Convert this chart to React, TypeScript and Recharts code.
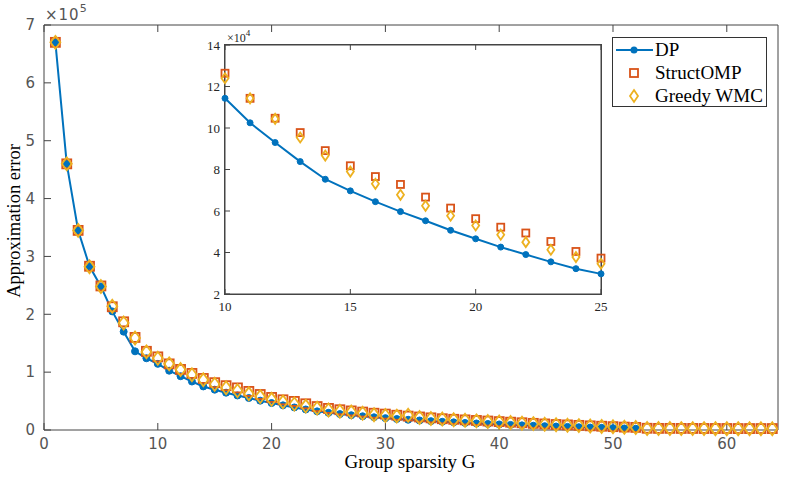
import React from 'react';
import { ComposedChart, Line, XAxis, YAxis, Label } from 'recharts';

// group sparsity G, error values in units of 1e5
const groups = [
  1, 2, 3, 4, 5, 6, 7, 8, 9, 10, 11, 12, 13, 14, 15, 16, 17, 18, 19, 20, 21, 22, 23, 24, 25, 26, 27, 28, 29, 30, 31, 32,
  33, 34, 35, 36, 37, 38, 39, 40, 41, 42, 43, 44, 45, 46, 47, 48, 49, 50, 51, 52, 53, 54, 55, 56, 57, 58, 59, 60, 61, 62,
  63, 64,
];
const dpError = [
  6.7, 4.6, 3.45, 2.83, 2.48, 2.05, 1.7, 1.36, 1.24, 1.143, 1.025, 0.93, 0.838, 0.753, 0.697, 0.645, 0.597, 0.553, 0.507,
  0.466, 0.426, 0.39, 0.355, 0.322, 0.297, 0.275, 0.255, 0.237, 0.22, 0.205, 0.19, 0.177, 0.165, 0.153, 0.142, 0.132,
  0.122, 0.113, 0.104, 0.096, 0.088, 0.08, 0.073, 0.066, 0.06, 0.054, 0.048, 0.042, 0.037, 0.032, 0.027, 0.022, null,
  null, null, null, null, null, null, null, null, null, null, null,
];
const structOmpError = [
  6.7, 4.6, 3.45, 2.83, 2.49, 2.13, 1.87, 1.6, 1.36, 1.264, 1.143, 1.047, 0.978, 0.891, 0.818, 0.766, 0.728, 0.667,
  0.614, 0.563, 0.522, 0.494, 0.453, 0.405, 0.373, 0.35, 0.33, 0.31, 0.29, 0.275, 0.255, 0.24, 0.225, 0.21, 0.195, 0.185,
  0.175, 0.165, 0.155, 0.145, 0.135, 0.125, 0.115, 0.105, 0.095, 0.088, 0.08, 0.072, 0.065, 0.058, 0.05, 0.045, 0.03,
  0.028, 0.028, 0.027, 0.027, 0.026, 0.026, 0.026, 0.025, 0.025, 0.025, 0.025,
];
const greedyWmcError = [
  6.7, 4.6, 3.45, 2.82, 2.48, 2.14, 1.85, 1.59, 1.35, 1.24, 1.143, 1.044, 0.954, 0.867, 0.79, 0.731, 0.678, 0.625, 0.577,
  0.53, 0.486, 0.45, 0.413, 0.378, 0.346, 0.325, 0.31, 0.29, 0.265, 0.25, 0.24, 0.255, 0.215, 0.2, 0.19, 0.178, 0.168,
  0.158, 0.148, 0.138, 0.128, 0.118, 0.11, 0.1, 0.09, 0.083, 0.076, 0.068, 0.062, 0.055, 0.048, 0.042, 0.026, 0.025,
  0.025, 0.024, 0.024, 0.024, 0.023, 0.023, 0.023, 0.022, 0.022, 0.022,
];

const mainXTicks = [0, 10, 20, 30, 40, 50, 60];
const mainYTicks = [0, 1, 2, 3, 4, 5, 6, 7];
const insetXTicks = [10, 15, 20, 25];
const insetYTicks = [0.2, 0.4, 0.6, 0.8, 1.0, 1.2, 1.4];

const BLUE = '#0072BD';
const RED = '#D95319';
const GOLD = '#EDB120';
const AXIS = '#444';
const SERIF = '"Liberation Serif", "Times New Roman", serif';
const SANS = '"DejaVu Sans", sans-serif';

const data = groups.map((g, i) => ({
  g,
  dp: dpError[i],
  struct: structOmpError[i],
  greedy: greedyWmcError[i],
}));
const insetData = data.filter((d) => d.g >= 10 && d.g <= 25);

const makeCircle = (r: number) => (p: any) => {
  if (p.cx == null || p.cy == null || p.value == null) return <g key={p.index} />;
  return <circle key={p.index} cx={p.cx} cy={p.cy} r={r} fill={BLUE} stroke={BLUE} />;
};
const makeSquare = (s: number) => (p: any) => {
  if (p.cx == null || p.cy == null || p.value == null) return <g key={p.index} />;
  return (
    <rect key={p.index} x={p.cx - s / 2} y={p.cy - s / 2} width={s} height={s} fill="none" stroke={RED} strokeWidth={1.8} />
  );
};
const makeDiamond = (w: number, h: number) => (p: any) => {
  if (p.cx == null || p.cy == null || p.value == null) return <g key={p.index} />;
  const { cx, cy } = p;
  const pts = `${cx},${cy - h / 2} ${cx + w / 2},${cy} ${cx},${cy + h / 2} ${cx - w / 2},${cy}`;
  return <polygon key={p.index} points={pts} fill="none" stroke={GOLD} strokeWidth={1.8} />;
};

const mainTick = { fill: '#555', fontSize: 15, fontFamily: SANS };
const insetTick = { fill: '#262626', fontSize: 13, fontFamily: SERIF };

function Legend() {
  const row = (top: number): React.CSSProperties => ({
    position: 'absolute',
    left: 0,
    top: top - 12,
    height: 24,
    display: 'flex',
    alignItems: 'center',
  });
  return (
    <div
      style={{
        position: 'absolute',
        left: 612,
        top: 37,
        width: 155,
        height: 70,
        border: '1px solid #333',
        background: '#fff',
        fontFamily: SERIF,
        fontSize: 19,
        color: '#000',
        boxSizing: 'border-box',
      }}
    >
      <div style={row(12)}>
        <svg width={42} height={24}>
          <line x1={3} x2={40} y1={12} y2={12} stroke={BLUE} strokeWidth={2} />
          <circle cx={21} cy={12} r={3.5} fill={BLUE} />
        </svg>
        <span>DP</span>
      </div>
      <div style={row(35)}>
        <svg width={42} height={24}>
          <rect x={17} y={8} width={8} height={8} fill="none" stroke={RED} strokeWidth={1.8} />
        </svg>
        <span>StructOMP</span>
      </div>
      <div style={row(58)}>
        <svg width={42} height={24}>
          <polygon points="21,6 25,12 21,18 17,12" fill="none" stroke={GOLD} strokeWidth={1.8} />
        </svg>
        <span>Greedy WMC</span>
      </div>
    </div>
  );
}

export default function App() {
  return (
    <div style={{ position: 'absolute', left: 0, top: 0, width: 789, height: 478, background: '#fff' }}>
      <ComposedChart width={789} height={478} data={data} margin={{ top: 24, right: 10, bottom: 0, left: 0 }}>
        <XAxis
          xAxisId="main"
          dataKey="g"
          type="number"
          domain={[0, 64.5]}
          ticks={mainXTicks}
          allowDataOverflow
          height={48}
          tickSize={-7}
          tickMargin={15}
          tick={mainTick}
          stroke={AXIS}
        >
          <Label
            content={() => (
              <text x={410} y={468} textAnchor="middle" fontFamily={SERIF} fontSize={19} fill="#000">
                Group sparsity G
              </text>
            )}
          />
        </XAxis>
        <XAxis
          xAxisId="top"
          dataKey="g"
          type="number"
          orientation="top"
          domain={[0, 64.5]}
          ticks={mainXTicks}
          allowDataOverflow
          height={1}
          tickSize={-7}
          tickFormatter={() => ''}
          stroke={AXIS}
        />
        <YAxis
          yAxisId="main"
          type="number"
          domain={[0, 7]}
          ticks={mainYTicks}
          width={44}
          tickSize={-7}
          tickMargin={16}
          tick={mainTick}
          stroke={AXIS}
        >
          <Label
            content={() => (
              <text
                x={14}
                y={221}
                transform="rotate(-90 14 221)"
                textAnchor="middle"
                dominantBaseline="central"
                fontFamily={SERIF}
                fontSize={18.5}
                fill="#000"
              >
                Approximation error
              </text>
            )}
          />
        </YAxis>
        <YAxis
          yAxisId="right"
          type="number"
          orientation="right"
          domain={[0, 7]}
          ticks={mainYTicks}
          width={1}
          tickSize={-7}
          tickFormatter={() => ''}
          stroke={AXIS}
        />
        <Line
          xAxisId="main"
          yAxisId="main"
          dataKey="dp"
          stroke={BLUE}
          strokeWidth={2}
          dot={makeCircle(3.5)}
          activeDot={false}
          isAnimationActive={false}
        />
        <Line
          xAxisId="main"
          yAxisId="main"
          dataKey="struct"
          stroke="none"
          dot={makeSquare(9)}
          activeDot={false}
          isAnimationActive={false}
        />
        <Line
          xAxisId="main"
          yAxisId="main"
          dataKey="greedy"
          stroke="none"
          dot={makeDiamond(10, 13)}
          activeDot={false}
          isAnimationActive={false}
        />
      </ComposedChart>

      <div style={{ position: 'absolute', left: 45, top: 6, fontFamily: SANS, fontSize: 15, color: '#555', letterSpacing: 1 }}>
        ×10<sup style={{ fontSize: 11, verticalAlign: 'top', position: 'relative', top: -4 }}>5</sup>
      </div>

      <div style={{ position: 'absolute', left: 200, top: 35, width: 410, height: 280 }}>
        {/* inset plot box (white background + frame) */}
        <div
          style={{
            position: 'absolute',
            left: 24,
            top: 9,
            width: 378,
            height: 251,
            background: '#fff',
            border: `1px solid ${AXIS}`,
            boxSizing: 'border-box',
          }}
        />
        <ComposedChart
          width={410}
          height={280}
          data={insetData}
          margin={{ top: 9, right: 8, bottom: 0, left: 0 }}
          style={{ position: 'absolute', left: 0, top: 0 }}
        >
          <XAxis
            xAxisId="main"
            dataKey="g"
            type="number"
            domain={[10, 25]}
            ticks={insetXTicks}
            height={21}
            tickSize={-5}
            tickMargin={13}
            tick={insetTick}
            stroke={AXIS}
          />
          <XAxis
            xAxisId="top"
            dataKey="g"
            type="number"
            orientation="top"
            domain={[10, 25]}
            ticks={insetXTicks}
            height={1}
            tickSize={-5}
            tickFormatter={() => ''}
            stroke={AXIS}
          />
          <YAxis
            yAxisId="main"
            type="number"
            domain={[0.2, 1.4]}
            ticks={insetYTicks}
            width={25}
            tickSize={-5}
            tickMargin={10}
            tick={insetTick}
            tickFormatter={(v: number) => String(Math.round(v * 10))}
            stroke={AXIS}
          />
          <YAxis
            yAxisId="right"
            type="number"
            orientation="right"
            domain={[0.2, 1.4]}
            ticks={insetYTicks}
            width={1}
            tickSize={-5}
            tickFormatter={() => ''}
            stroke={AXIS}
          />
          <Line
            xAxisId="main"
            yAxisId="main"
            dataKey="dp"
            stroke={BLUE}
            strokeWidth={2}
            dot={makeCircle(3)}
            activeDot={false}
            isAnimationActive={false}
          />
          <Line
            xAxisId="main"
            yAxisId="main"
            dataKey="struct"
            stroke="none"
            dot={makeSquare(7)}
            activeDot={false}
            isAnimationActive={false}
          />
          <Line
            xAxisId="main"
            yAxisId="main"
            dataKey="greedy"
            stroke="none"
            dot={makeDiamond(7, 10)}
            activeDot={false}
            isAnimationActive={false}
          />
        </ComposedChart>
        <div style={{ position: 'absolute', left: 27, top: -4, fontFamily: SERIF, fontSize: 12, color: '#262626' }}>
          ×10<sup style={{ fontSize: 9, verticalAlign: 'top', position: 'relative', top: -3 }}>4</sup>
        </div>
      </div>

      <Legend />
    </div>
  );
}
